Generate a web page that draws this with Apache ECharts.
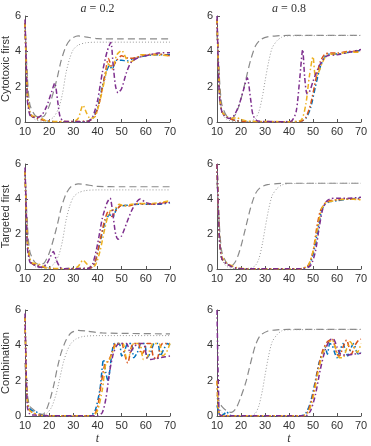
<!DOCTYPE html>
<html>
<head>
<meta charset="utf-8">
<script src="https://cdn.jsdelivr.net/npm/echarts@6/dist/echarts.min.js"></script>
<style>
  html, body { margin: 0; padding: 0; background: #fff; }
  #chart { width: 371px; height: 446px; }
</style>
</head>
<body>
<div id="chart"></div>
<script>
// axes
const tTicks = [10, 20, 30, 40, 50, 60, 70]
const yTicks = [0, 2, 4, 6]
const rowNames = ['Cytotoxic first', 'Targeted first', 'Combination']
const colValues = ['0.2', '0.8']
const lineColors = ['#0072BD', '#D95319', '#EDB120', '#7E2F8E']

// Cytotoxic first, a = 0.2
const ct02Dash = [[10,5.5],[11,2.5],[12,1.0],[14,0.4],[16,0.25],[18,0.35],[20,0.9],[22,1.8],[23.5,2.6],[25,3.5],[27,4.3],[29,4.7],[32,4.87],[35,4.82],[40,4.72],[50,4.7],[70,4.7]]
const ct02Dot = [[10,5.5],[11,2.0],[12,0.6],[14,0.15],[17,0.05],[20,0.1],[22,0.3],[24,0.8],[25.5,1.6],[27,2.8],[28.5,3.6],[30,4.1],[32,4.35],[35,4.48],[40,4.52],[70,4.52]]
const ct02Blue = [[10,5.6],[11,1.5],[12,0.5],[13,0.3],[15,0.2],[17,0.15],[19,0.05],[22,0.02],[30,0.0],[36,0.05],[38,0.2],[40,0.8],[42,2.0],[43.5,2.8],[45,3.2],[46,3.0],[48,3.5],[50,3.5],[52,3.45],[55,3.6],[60,3.75],[65,3.8],[70,3.8]]
const ct02Red = [[10,5.6],[11,1.5],[12,0.5],[13,0.3],[15,0.2],[18,0.1],[22,0.02],[36,0.05],[38,0.2],[40,0.7],[42,1.9],[43.5,3.0],[44.5,3.6],[46,3.1],[48,3.5],[50,3.75],[51,3.7],[53,3.6],[56,3.65],[60,3.8],[65,3.85],[70,3.75]]
const ct02Yellow = [[10,5.6],[11,1.6],[12,0.6],[13,0.35],[15,0.3],[17,0.2],[19,0.05],[30,0.02],[32,0.2],[34,0.95],[35.5,0.5],[37,0.2],[39,0.3],[41,1.2],[43,2.4],[44.5,3.3],[46,3.0],[48,3.8],[50,4.05],[51.5,3.7],[53,3.35],[55,3.5],[58,3.8],[62,3.8],[70,3.75]]
const ct02Purple = [[10,5.8],[10.5,3.5],[11,1.2],[12,0.4],[13,0.3],[15,0.25],[17,0.4],[19,0.9],[21,1.7],[22.3,2.2],[23.5,1.2],[24.5,0.3],[26,0.05],[36,0.02],[38,0.3],[40,1.2],[42,2.8],[44,4.0],[45.5,4.5],[46.5,3.2],[47.5,2.0],[48.5,1.65],[50,1.9],[52,2.8],[54,3.4],[57,3.65],[60,3.75],[65,3.9],[70,3.92]]

// Cytotoxic first, a = 0.8
const ct08Dash = [[10,5.0],[11,2.5],[12,1.0],[14,0.35],[16,0.2],[18,0.5],[20,1.3],[22,2.4],[24,3.5],[26,4.3],[28,4.65],[31,4.82],[35,4.88],[40,4.9],[70,4.9]]
const ct08Dot = [[10,5.0],[11,2.0],[12,0.6],[14,0.15],[18,0.02],[24,0.05],[26,0.2],[27.5,0.6],[29,1.5],[30,2.3],[31.5,3.4],[33,4.2],[35,4.6],[37,4.8],[40,4.88],[70,4.9]]
const ct08Blue = [[10,5.8],[11,1.8],[12,0.6],[14,0.3],[16,0.15],[18,0.08],[22,0.02],[40,0.01],[45,0.05],[47,0.2],[49,0.8],[51,2.0],[53,3.1],[55,3.7],[57,3.85],[60,3.85],[65,3.95],[70,4.05]]
const ct08Red = [[10,5.8],[11,1.8],[12,0.6],[14,0.3],[16,0.15],[18,0.08],[22,0.02],[40,0.01],[45,0.05],[47,0.25],[49,1.0],[51,2.3],[53,3.4],[55,3.85],[57,3.9],[60,3.9],[65,4.0],[70,4.0]]
const ct08Yellow = [[10,5.8],[11,1.8],[12,0.6],[14,0.3],[16,0.2],[18,0.25],[20,0.15],[23,0.05],[40,0.02],[45,0.1],[47,1.0],[48.5,2.6],[50,3.7],[51,2.6],[52,2.7],[54,3.4],[56,3.8],[60,3.85],[65,3.95],[70,3.95]]
const ct08Purple = [[10,6.0],[10.5,3.5],[11,1.5],[12,0.6],[13,0.35],[15,0.2],[17,0.35],[19,0.9],[21,1.8],[22.6,2.5],[24,1.3],[25,0.4],[27,0.05],[38,0.02],[41,0.05],[43,0.6],[44.5,2.5],[45.7,4.1],[46.5,2.6],[47.5,1.6],[48.5,1.7],[50,2.3],[52,3.0],[54,3.5],[56,3.75],[60,3.8],[65,3.95],[70,4.1]]

// Targeted first, a = 0.2
const tf02Dash = [[10,5.5],[11,2.5],[12,1.0],[14,0.4],[16,0.25],[18,0.35],[20,0.9],[22,1.8],[23.5,2.6],[25,3.5],[27,4.3],[29,4.7],[32,4.87],[35,4.82],[40,4.72],[50,4.7],[70,4.7]]
const tf02Dot = [[10,5.5],[11,2.0],[12,0.6],[14,0.15],[17,0.05],[20,0.1],[22,0.3],[24,0.8],[25.5,1.6],[27,2.8],[28.5,3.6],[30,4.1],[32,4.35],[35,4.48],[40,4.52],[70,4.52]]
const tf02Blue = [[10,5.6],[11,1.5],[12,0.5],[13,0.3],[15,0.2],[18,0.1],[22,0.02],[37,0.05],[39,0.4],[41,1.5],[43,2.6],[45,3.1],[46.5,3.0],[48,3.5],[50,3.6],[53,3.65],[57,3.7],[62,3.7],[66,3.7],[70,3.8]]
const tf02Red = [[10,5.6],[11,1.5],[12,0.5],[13,0.3],[15,0.2],[18,0.1],[22,0.02],[37,0.05],[39,0.4],[41,1.6],[43,2.8],[44.5,3.3],[46,3.0],[48,3.4],[50,3.65],[53,3.6],[57,3.75],[62,3.7],[66,3.75],[70,3.85]]
const tf02Yellow = [[10,5.6],[11,1.6],[12,0.6],[13,0.35],[15,0.3],[17,0.2],[19,0.05],[30,0.02],[32,0.15],[34,0.5],[35.5,0.3],[37,0.15],[39,0.2],[41,1.0],[43,2.3],[45,3.3],[47,3.4],[49,3.7],[51,3.6],[54,3.7],[58,3.75],[63,3.75],[70,3.9]]
const tf02Purple = [[10,5.8],[10.5,3.5],[11,1.2],[12,0.4],[13,0.3],[15,0.15],[17,0.1],[19,0.3],[20.5,0.7],[21.7,1.0],[23,0.5],[24.5,0.1],[26,0.02],[36,0.02],[38,0.3],[40,1.4],[42,2.9],[44,3.8],[45.2,4.05],[46.3,3.2],[47.5,2.0],[48.5,1.7],[50,1.9],[52,2.6],[54,3.3],[56,3.8],[57.6,4.0],[60,3.8],[63,3.7],[67,3.75],[70,3.8]]

// Targeted first, a = 0.8
const tf08Dash = [[10,5.0],[11,2.5],[12,1.0],[14,0.35],[16,0.2],[18,0.5],[20,1.3],[22,2.4],[24,3.5],[26,4.3],[28,4.65],[31,4.82],[35,4.88],[40,4.9],[70,4.9]]
const tf08Dot = [[10,5.0],[11,2.0],[12,0.6],[14,0.15],[18,0.02],[24,0.05],[26,0.2],[27.5,0.6],[29,1.5],[30,2.3],[31.5,3.4],[33,4.2],[35,4.6],[37,4.8],[40,4.88],[70,4.9]]
const tf08Blue = [[10,6.0],[11,1.8],[12,0.6],[14,0.3],[16,0.15],[18,0.05],[22,0.02],[45,0.02],[48,0.15],[50,0.8],[52,2.2],[53.5,3.3],[55,3.7],[57,3.85],[60,3.9],[65,4.0],[70,4.05]]
const tf08Red = [[10,6.0],[11,1.8],[12,0.6],[14,0.3],[16,0.15],[18,0.05],[22,0.02],[45,0.02],[48,0.2],[50,1.0],[51.5,2.3],[53,3.3],[55,3.75],[57,3.9],[60,3.95],[65,4.0],[70,4.0]]
const tf08Yellow = [[10,6.0],[11,1.9],[12,0.7],[14,0.35],[16,0.2],[18,0.08],[22,0.02],[45,0.02],[48,0.2],[50,1.0],[52,2.4],[53.5,3.4],[55,3.75],[57,3.85],[60,3.95],[65,4.0],[70,3.95]]
const tf08Purple = [[10,6.0],[11,1.8],[12,0.6],[14,0.3],[16,0.15],[18,0.05],[22,0.02],[46,0.02],[49,0.2],[51,1.0],[52.5,2.3],[54,3.4],[55.5,3.85],[57,4.0],[60,4.05],[65,4.05],[70,4.1]]

// Combination, a = 0.2
const cb02Dash = [[10,3.0],[11,1.2],[12,0.55],[14,0.3],[16,0.12],[17.5,0.1],[19,0.4],[20.5,1.0],[22,1.8],[23.5,2.8],[25,3.6],[27,4.3],[29,4.7],[32,4.85],[36,4.8],[42,4.7],[70,4.65]]
const cb02Dot = [[10,3.0],[11,1.0],[12,0.4],[14,0.1],[17,0.05],[19,0.15],[21,0.5],[23,1.3],[24.5,2.2],[26,3.1],[27.5,3.7],[29,4.1],[31,4.35],[34,4.5],[40,4.55],[70,4.55]]
const cb02Blue = [[10,5.6],[10.7,1.5],[11.5,0.5],[13,0.3],[14.5,0.25],[16,0.1],[18,0.02],[37,0.02],[39,0.3],[41,1.5],[42.5,3.2],[43.5,2.4],[44.3,2.0],[46,3.6],[47,4.1],[49,4.1],[50,3.4],[51,3.6],[52.5,4.1],[54,4.1],[55,3.3],[56.5,3.6],[58,4.1],[59.5,4.1],[60.5,3.3],[62,3.6],[63.5,4.1],[65,4.1],[66,3.4],[67.5,3.8],[69,4.1],[70,4.0]]
const cb02Red = [[10,5.6],[10.7,1.5],[11.5,0.4],[13,0.2],[16,0.05],[20,0.02],[38,0.02],[40,0.5],[41.5,1.8],[43,2.9],[44.5,3.1],[46,3.6],[47.5,4.1],[50,4.1],[51,3.6],[52.5,3.0],[54,3.9],[55,4.1],[57,4.1],[58,3.5],[59,3.6],[60.5,4.1],[62,4.1],[63,3.4],[64.5,3.2],[66,3.9],[67,4.1],[70,4.1]]
const cb02Yellow = [[10,5.6],[10.7,1.5],[11.5,0.4],[13,0.2],[16,0.05],[20,0.02],[38,0.02],[40,0.3],[42,1.5],[43.5,3.0],[45,3.2],[46.5,3.7],[48,4.1],[50.5,4.1],[52,3.3],[53.5,3.5],[55,4.1],[57.5,4.1],[59,3.2],[60.5,3.3],[62,3.9],[63,4.1],[65.5,4.1],[67,3.4],[68.5,3.6],[70,4.1]]
const cb02Purple = [[10,5.8],[10.5,2.5],[11,0.5],[12,0.1],[14,0.05],[20,0.02],[40,0.02],[42,0.2],[43.5,1.0],[45,2.5],[46.5,3.5],[48,4.0],[49.5,4.1],[52,4.1],[53.5,3.6],[55,3.9],[57,4.1],[59,4.1],[60.5,3.3],[62,3.2],[64,3.25],[66,3.3],[68,3.35],[70,3.4]]

// Combination, a = 0.8
const cb08Dash = [[10,1.2],[11,0.8],[12,0.55],[14,0.3],[16,0.2],[18,0.45],[20,1.1],[22,1.9],[24,3.0],[26,4.0],[28,4.55],[31,4.8],[35,4.88],[40,4.9],[70,4.9]]
const cb08Dot = [[10,1.0],[11,0.5],[12,0.2],[14,0.05],[24,0.02],[26,0.15],[27.5,0.6],[29,1.5],[30,2.3],[31.5,3.4],[33,4.2],[35,4.6],[37,4.82],[40,4.88],[70,4.9]]
const cb08Blue = [[10,0.6],[11,0.1],[12,0.03],[13,0.12],[14,0.25],[15,0.1],[16,0.02],[45,0.02],[47,0.15],[49,0.8],[51,2.0],[52.5,3.0],[54,3.6],[55,3.9],[56,3.5],[57,4.1],[58,4.0],[59,3.6],[60,3.3],[61.5,3.8],[62.5,4.1],[63.5,3.7],[64.5,3.4],[66,3.9],[67,4.1],[68,3.7],[69,3.5],[70,3.6]]
const cb08Red = [[10,2.0],[10.5,0.5],[11,0.1],[12,0.02],[46,0.02],[48,0.3],[50,1.2],[52,2.6],[54,3.7],[56,4.2],[58,4.35],[59,4.0],[60,3.5],[61,3.4],[62.5,3.9],[64,4.3],[65,3.9],[66,3.5],[67.5,4.0],[69,4.3],[70,4.35]]
const cb08Yellow = [[10,2.0],[10.5,0.5],[11,0.1],[12,0.02],[46,0.02],[48,0.2],[50,1.0],[52,2.4],[54,3.5],[56,4.1],[58,4.3],[59.5,3.8],[61,3.3],[62.5,3.3],[64,3.8],[65.5,4.2],[67,3.9],[68.5,3.6],[70,4.1]]
const cb08Purple = [[10,6.0],[10.3,3.5],[10.7,1.0],[11,0.1],[12,0.02],[47,0.02],[49,0.3],[51,1.2],[53,2.6],[55,3.7],[57,4.3],[58.5,4.35],[60,3.9],[61.5,3.5],[64,3.45],[67,3.5],[70,3.55]]

// panels, row by row
const panels = [
  [ct02Dash, ct02Dot, ct02Blue, ct02Red, ct02Yellow, ct02Purple],
  [ct08Dash, ct08Dot, ct08Blue, ct08Red, ct08Yellow, ct08Purple],
  [tf02Dash, tf02Dot, tf02Blue, tf02Red, tf02Yellow, tf02Purple],
  [tf08Dash, tf08Dot, tf08Blue, tf08Red, tf08Yellow, tf08Purple],
  [cb02Dash, cb02Dot, cb02Blue, cb02Red, cb02Yellow, cb02Purple],
  [cb08Dash, cb08Dot, cb08Blue, cb08Red, cb08Yellow, cb08Purple]
]

// layout
const colLeft = [25, 217]
const colWidth = [145, 144]
const rowTop = [16, 164, 310]
const rowHeight = [106, 105, 106]

const axisColor = '#555'
const textColor = '#333'
const sansFont = '"Liberation Sans", Arial, sans-serif'
const serifFont = '"Liberation Serif", "DejaVu Serif", serif'

const grids = []
const xAxes = []
const yAxes = []
const series = []

panels.forEach((lines, i) => {
  const row = Math.floor(i / 2)
  const col = i % 2
  grids.push({
    left: colLeft[col], top: rowTop[row],
    width: colWidth[col], height: rowHeight[row],
    containLabel: false, outerBoundsMode: 'none'
  })
  xAxes.push({
    type: 'value', gridIndex: i,
    min: tTicks[0], max: tTicks[tTicks.length - 1], interval: 10,
    name: row === 2 ? 't' : '',
    nameLocation: 'middle', nameGap: 17,
    nameTextStyle: { fontFamily: serifFont, fontStyle: 'italic', fontSize: 12, color: textColor },
    axisLine: { lineStyle: { color: axisColor, width: 1 } },
    axisTick: { inside: true, length: 3, lineStyle: { color: axisColor } },
    axisLabel: { fontFamily: sansFont, fontSize: 11, color: textColor, margin: 4 },
    splitLine: { show: false }
  })
  yAxes.push({
    type: 'value', gridIndex: i,
    min: yTicks[0], max: yTicks[yTicks.length - 1], interval: 2,
    name: col === 0 ? rowNames[row] : '',
    nameLocation: 'middle', nameGap: 12,
    nameTextStyle: { fontFamily: sansFont, fontSize: 11, color: textColor },
    axisLine: { show: true, lineStyle: { color: axisColor, width: 1 } },
    axisTick: { show: true, inside: true, length: 3, lineStyle: { color: axisColor } },
    axisLabel: { fontFamily: sansFont, fontSize: 11, color: textColor, margin: 4 },
    splitLine: { show: false }
  })
  lines.forEach((data, k) => {
    let lineStyle
    if (k === 0) lineStyle = { color: '#8a8a8a', width: 1.2, type: [7, 4] }
    else if (k === 1) lineStyle = { color: '#9a9a9a', width: 1, type: [1, 2] }
    else lineStyle = { color: lineColors[k - 2], width: 1.5, type: [5, 2.5, 1.5, 2.5] }
    series.push({
      type: 'line', xAxisIndex: i, yAxisIndex: i,
      data: data, showSymbol: false, symbol: 'none',
      smooth: 0.25, lineStyle: lineStyle, z: 2 + k
    })
  })
})

const graphics = colValues.map((v, col) => ({
  type: 'text',
  x: colLeft[col] + colWidth[col] / 2,
  y: 3,
  style: {
    text: '{i|a} = ' + v,
    textAlign: 'center',
    font: '12px ' + serifFont,
    fill: textColor,
    rich: { i: { fontStyle: 'italic', fontFamily: serifFont, fontSize: 12 } }
  }
}))

const chart = echarts.init(document.getElementById('chart'), null, { renderer: 'canvas' })
chart.setOption({
  animation: false,
  backgroundColor: '#fff',
  grid: grids,
  xAxis: xAxes,
  yAxis: yAxes,
  series: series,
  graphic: graphics
})
</script>
</body>
</html>
